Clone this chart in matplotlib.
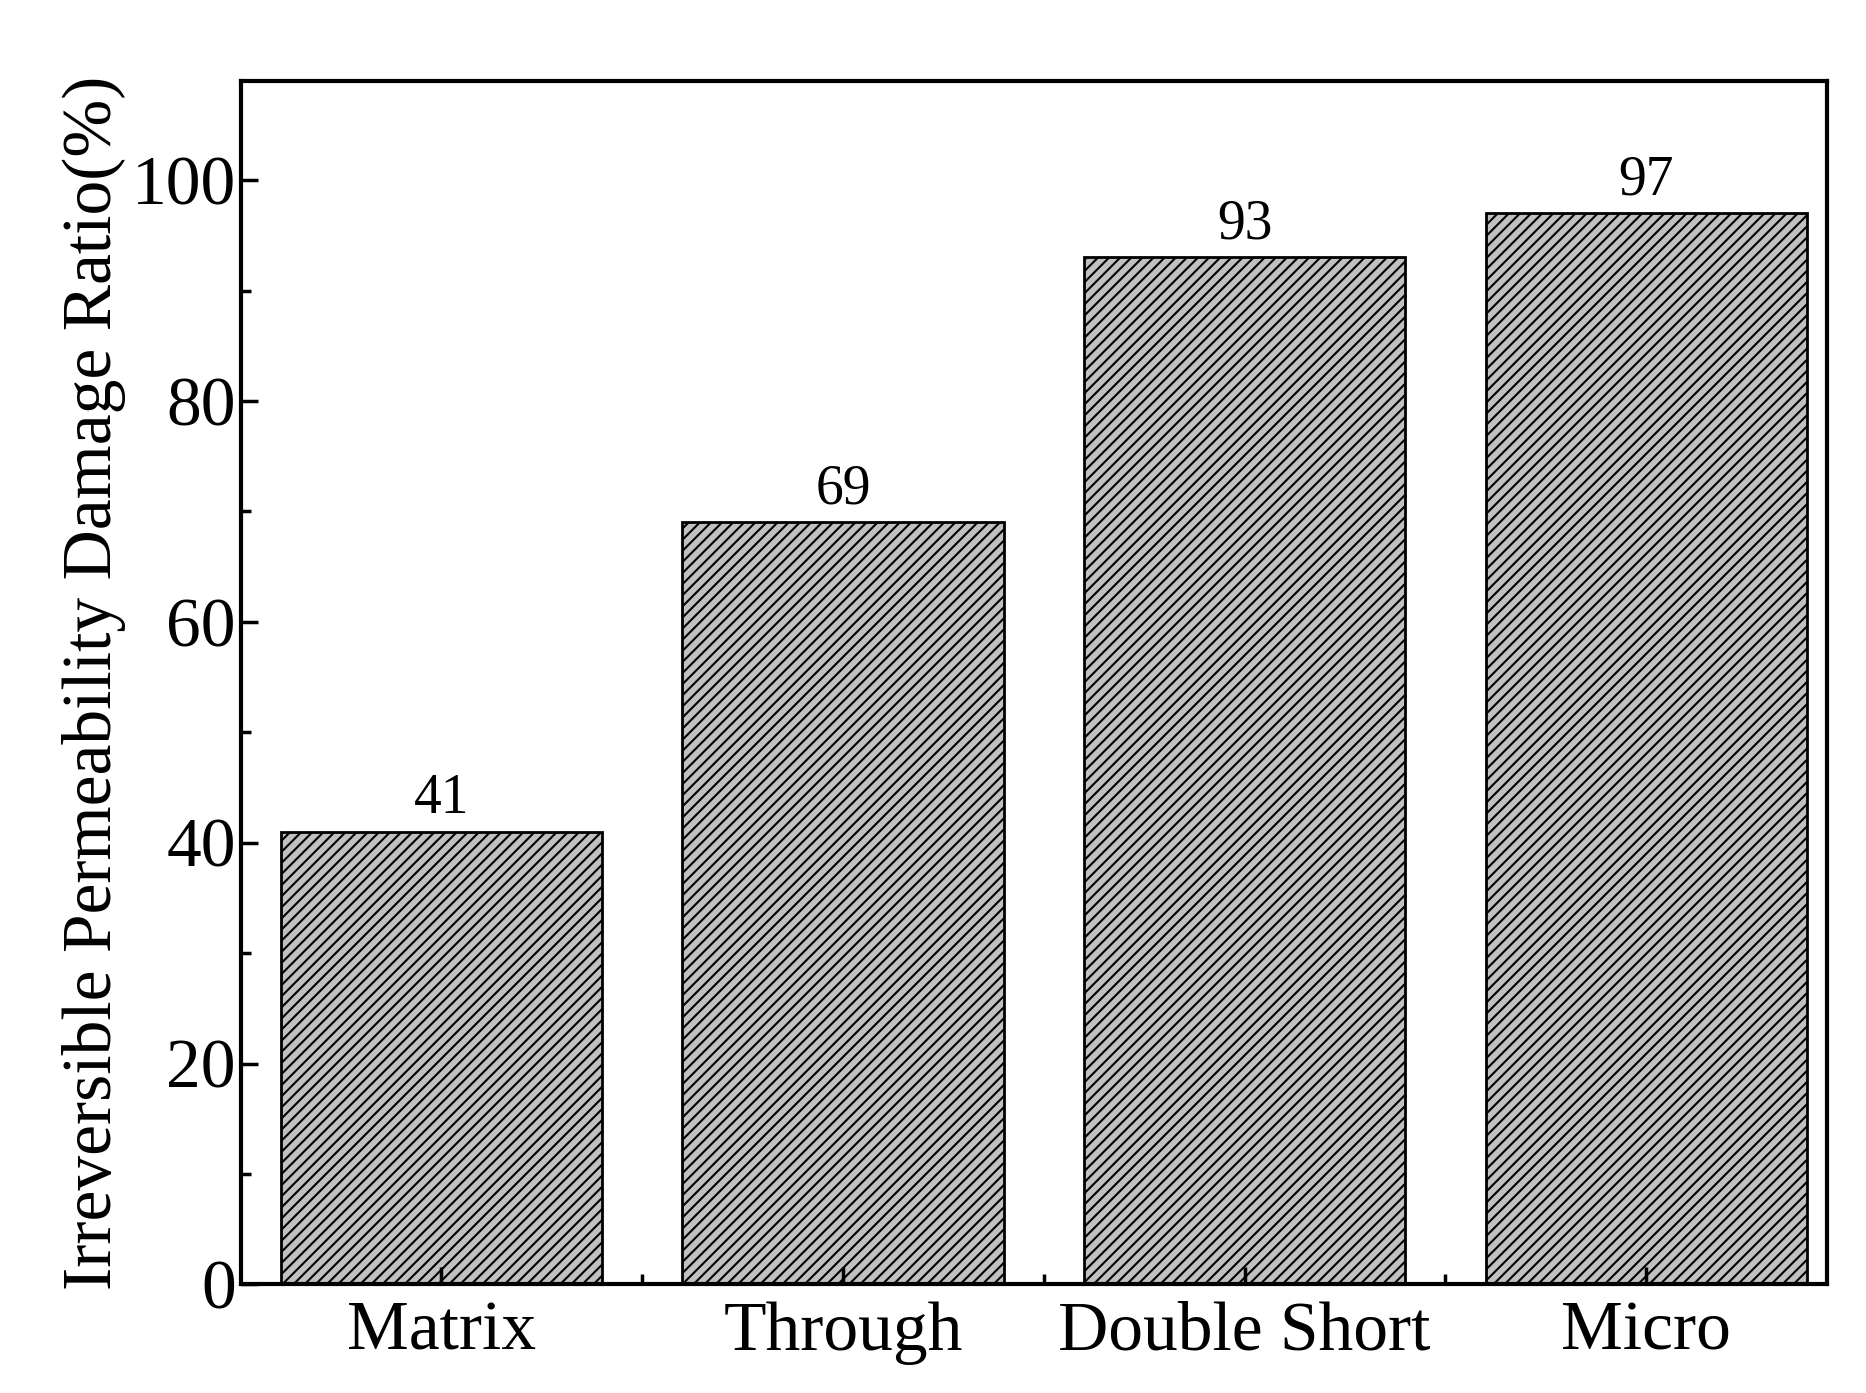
import matplotlib
matplotlib.use("Agg")
import matplotlib.pyplot as plt
from matplotlib.ticker import MultipleLocator, FixedLocator

plt.rcParams["font.family"] = ["Liberation Serif", "DejaVu Serif"]
plt.rcParams["hatch.linewidth"] = 1.5

# data
categories = ["Matrix", "Through", "Double Short", "Micro"]
values = [41, 69, 93, 97]

fig = plt.figure(figsize=(18.66, 13.93), dpi=100)
ax = fig.add_axes([0.129, 0.078, 0.850, 0.864])

x = list(range(len(categories)))
bars = ax.bar(x, values, width=0.8, color="#c0c0c0", edgecolor="black",
              linewidth=2, hatch="///")
for xi, v in zip(x, values):
    ax.text(xi, v + 0.6, str(v), ha="center", va="bottom", fontsize=40)

ax.set_xlim(-0.5, 3.45)
ax.set_ylim(0, 109)
ax.set_xticks(x)
ax.set_xticklabels(categories)
ax.xaxis.set_minor_locator(FixedLocator([0.5, 1.5, 2.5]))
ax.yaxis.set_major_locator(MultipleLocator(20))
ax.yaxis.set_minor_locator(MultipleLocator(10))
ax.tick_params(which="both", direction="in", width=2.5, labelsize=50)
ax.tick_params(which="major", length=12)
ax.tick_params(which="minor", length=7)
ax.tick_params(axis="x", pad=12)
for s in ax.spines.values():
    s.set_linewidth(3)
ax.set_ylabel("Irreversible Permeability Damage Ratio(%)", fontsize=50)

fig.savefig("out.png", dpi=100)
